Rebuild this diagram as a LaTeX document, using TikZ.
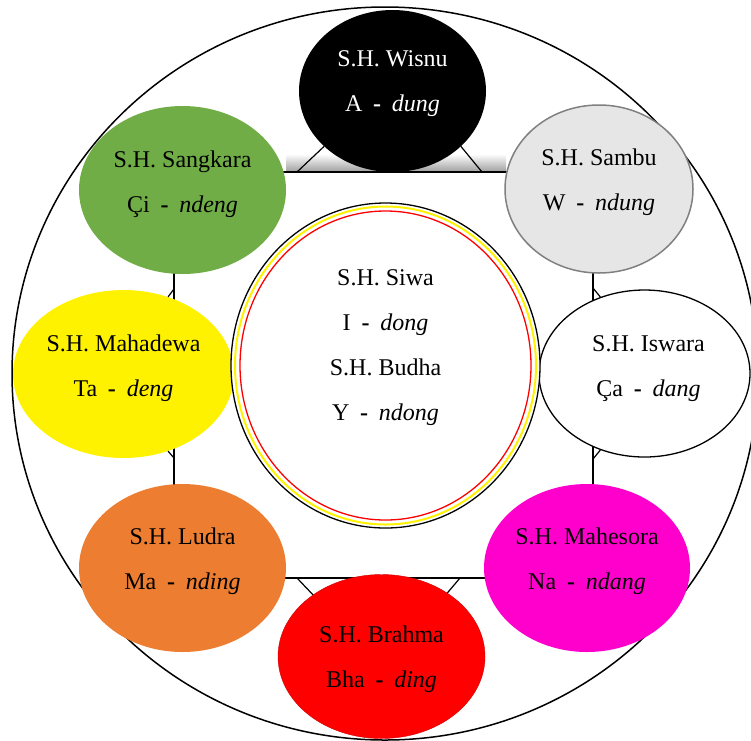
\documentclass[tikz,border=0pt]{standalone}
\usepackage{fontspec}
\setmainfont{Liberation Serif}
\usepackage{tikz}
\usetikzlibrary{shapes}
\usetikzlibrary{positioning}
\usepackage{xcolor}

\definecolor{sgreen}{RGB}{112,173,71}
\definecolor{sgray}{RGB}{231,230,230}
\definecolor{sgrayline}{RGB}{128,128,128}
\definecolor{sorange}{RGB}{237,125,49}
\definecolor{smagenta}{RGB}{255,0,204}
\newcommand{\aks}[2]{#1\hspace{.45em}\textbf{-}\hspace{.45em}\textit{#2}}

\begin{document}
\begin{tikzpicture}[x=1pt,y=-1pt,
  god/.style={ellipse,inner sep=0pt},
  word/.style={align=center,font=\fontsize{24}{45}\selectfont},
  frame/.style={line width=1.6pt},
  leg/.style={line width=1.2pt}]
\useasboundingbox (0,0) rectangle (751,740);
\clip (0,0) rectangle (751,740);

\draw[line width=1.5pt] (385,373.5) ellipse [x radius=373, y radius=366.5];

% frame behind the ring
\shade[top color=white,bottom color=black!38] (286,154) rectangle (506,172);
\coordinate (tl) at (174,172);
\coordinate (br) at (593,578);
\draw[frame] (tl) rectangle (br);

\coordinate (w1) at (297,172);
\coordinate (w2) at (482,172);
\coordinate (b1) at (297,578);
\coordinate (b2) at (460,578);
\coordinate (i1) at (593,288);
\coordinate (i2) at (593,459);
\coordinate (m1) at (174,289);
\coordinate (m2) at (174,458);

% the eight
\node[god,fill=black,minimum width=187,minimum height=162] (wisnu) at (392.5,91) {};
\node[god,fill=sgreen,minimum width=207,minimum height=168] (sangkara) at (182.5,190) {};
\node[god,fill=sgray,draw=sgrayline,line width=1.5pt,minimum width=188,minimum height=168] (sambu) at (599,189) {};
\node[god,fill=yellow,minimum width=221,minimum height=168] (mahadewa) at (123.5,374) {};
\node[god,fill=white,draw,line width=1.3pt,minimum width=211,minimum height=167] (iswara) at (644.5,373.5) {};
\node[god,fill=sorange,minimum width=207,minimum height=168] (ludra) at (182.5,568) {};
\node[god,fill=smagenta,minimum width=206,minimum height=168] (mahesora) at (587,568) {};
\node[god,fill=red,draw=red!80!black,minimum width=207,minimum height=164] (brahma) at (381.5,656.5) {};

\draw[leg] (w1) -- (wisnu.219);
\draw[leg] (w2) -- (wisnu.321);
\draw[leg] (b1) -- (brahma.138);
\draw[leg] (b2) -- (brahma.44);
\draw[leg] (i1) -- (iswara.120);
\draw[leg] (i2) -- (iswara.240);
\draw[leg] (m1) -- (mahadewa.60);
\draw[leg] (m2) -- (mahadewa.300);

% centre
\node[god,draw,line width=1.3pt,fill=white,minimum width=309,minimum height=325] (core) at (385.5,365.5) {};
\draw[yellow,line width=2pt] (core.center) ellipse [x radius=150.5,y radius=159];
\draw[red,line width=1.3pt] (core.center) ellipse [x radius=145.5,y radius=154.5];

\node[word,text=white] (wisnu-t) at ([yshift=7]wisnu.center) {S.H. Wisnu\\\aks{A}{dung}};
\node[word] (sangkara-t) at ([yshift=6]sangkara.center) {S.H. Sangkara\\\aks{Çi}{ndeng}};
\node[word] (sambu-t) at ([yshift=7]sambu.center) {S.H. Sambu\\\aks{W}{ndung}};
\node[word] (mahadewa-t) at ([yshift=6]mahadewa.center) {S.H. Mahadewa\\\aks{Ta}{deng}};
\node[word] (iswara-t) at ([xshift=4,yshift=5]iswara.center) {S.H. Iswara\\\aks{Ça}{dang}};
\node[word] (ludra-t) at ([yshift=7]ludra.center) {S.H. Ludra\\\aks{Ma}{nding}};
\node[word] (mahesora-t) at ([yshift=7]mahesora.center) {S.H. Mahesora\\\aks{Na}{ndang}};
\node[word] (brahma-t) at ([yshift=-3]brahma.center) {S.H. Brahma\\\aks{Bha}{ding}};
\node[word] (core-t) at ([yshift=18]core.center) {S.H. Siwa\\\aks{I}{dong}\\S.H. Budha\\\aks{Y}{ndong}};

\end{tikzpicture}
\end{document}
